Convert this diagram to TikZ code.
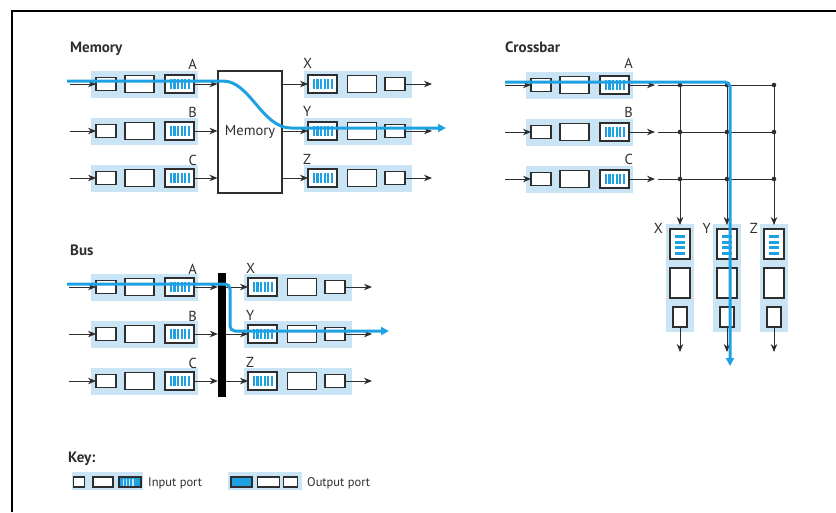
\documentclass[tikz,border=0pt]{standalone}
\usepackage{fontspec}
\setmainfont{PT Sans}
\usetikzlibrary{arrows.meta,calc}
\definecolor{bgblue}{HTML}{C9E4F5}
\definecolor{flowblue}{HTML}{1DA1E2}
\definecolor{ink}{HTML}{2E2E2E}
\tikzset{
  portbg/.style={fill=bgblue,draw=none,inner sep=0pt,outer sep=0pt},
  bx/.style={draw=ink,line width=1.1pt,fill=white,inner sep=0pt,outer sep=0pt},
  sbox/.style={bx,minimum width=20pt,minimum height=13pt},
  mbox/.style={bx,minimum width=29pt,minimum height=17pt},
  qbox/.style={bx,minimum width=29pt,minimum height=18pt},
  vqbox/.style={bx,minimum width=20pt,minimum height=30pt},
  vmbox/.style={bx,minimum width=20pt,minimum height=30pt},
  vsbox/.style={bx,minimum width=14pt,minimum height=20pt},
  arr/.style={-{Stealth[length=8pt,width=6.5pt]},line width=0.9pt,draw=ink},
  gridline/.style={line width=1pt,draw=ink},
  flow/.style={draw=flowblue,line width=3pt,rounded corners=5pt,-{Triangle[length=8pt,width=8pt]}},
  lbl/.style={text=ink,font=\fontsize{14.5}{16}\selectfont,inner sep=0pt},
  ttl/.style={text=ink,font=\fontsize{15}{17}\selectfont\bfseries,inner sep=0pt,anchor=base west},
  keytxt/.style={text=ink,font=\fontsize{12.5}{14}\selectfont,inner sep=0pt,anchor=base west},
}
\newcommand\inport[3]{%
  \node[portbg,minimum width=107pt,minimum height=27pt,anchor=west] (#1bg) at (#2,#3) {};
  \node[sbox] (#1s) at ({#2+15},#3) {};
  \node[mbox] (#1m) at ({#2+48.5},#3) {};
  \node[qbox] (#1q) at ({#2+88.5},#3) {};
  \foreach \i in {0,...,5} \fill[flowblue] ({#2+88.5-9.8+\i*3.6},{#3-5}) rectangle ++(2.3,10);
}
\newcommand\outport[3]{%
  \node[portbg,minimum width=108pt,minimum height=27pt,anchor=west] (#1bg) at (#2,#3) {};
  \node[qbox] (#1q) at ({#2+18.5},#3) {};
  \node[mbox] (#1m) at ({#2+58},#3) {};
  \node[sbox] (#1s) at ({#2+91},#3) {};
  \foreach \i in {0,...,5} \fill[flowblue] ({#2+18.5-9.8+\i*3.6},{#3-5}) rectangle ++(2.3,10);
}
\newcommand\colport[2]{%
  \node[portbg,minimum width=28pt,minimum height=108pt] (#1bg) at (#2,278) {};
  \node[vqbox] (#1q) at (#2,244) {};
  \node[vmbox] (#1m) at (#2,283) {};
  \node[vsbox] (#1s) at (#2,317) {};
  \foreach \i in {0,...,3} \fill[flowblue] ({#2-5},{235+\i*5.6}) rectangle ++(10,3);
}
\begin{document}
\begin{tikzpicture}[x=1pt,y=-1pt]
\useasboundingbox (0,0) rectangle (836,512);
% frame
\draw[line width=1.6pt,black] (12,512) -- (12,11) -- (836,11);

% ================= Memory =================
\node[ttl] (tmem) at (70,52) {Memory};
\node[draw=ink,line width=1.1pt,fill=white,minimum width=64pt,minimum height=122pt,inner sep=0pt,
      font=\fontsize{14.5}{16}\selectfont,text=ink] (mem) at (250,132) {Memory};
\inport{mA}{91}{84}
\inport{mB}{91}{131}
\inport{mC}{91}{178}
\outport{mX}{304}{84}
\outport{mY}{304}{131}
\outport{mZ}{304}{178}
\foreach \r in {A,B,C}{
  \coordinate (m\r in) at ($(m\r s.west)+(-26,0)$);
  \draw[arr] (m\r in) -- (m\r s.west);
  \draw[arr] (m\r q.east) -- (m\r q -| mem.west);
}
\foreach \r in {X,Y,Z}{
  \coordinate (m\r out) at ($(m\r s.east)+(27,0)$);
  \draw[arr] (m\r q -| mem.east) -- (m\r q.west);
  \draw[arr] (m\r s.east) -- (m\r out);
}
\node[lbl,anchor=base east] (lmA) at (197,69) {A};
\node[lbl,anchor=base east] (lmB) at (197,117) {B};
\node[lbl,anchor=base east] (lmC) at (197,165) {C};
\node[lbl,anchor=base west] (lmX) at (303,68) {X};
\node[lbl,anchor=base west] (lmY) at (303,116) {Y};
\node[lbl,anchor=base west] (lmZ) at (303,164) {Z};

% ================= Crossbar =================
\node[ttl] (tcb) at (505,52) {Crossbar};
\inport{cA}{526}{85}
\inport{cB}{526}{132}
\inport{cC}{526}{179}
\node[lbl,anchor=base east] (lcA) at (633,68) {A};
\node[lbl,anchor=base east] (lcB) at (633,117) {B};
\node[lbl,anchor=base east] (lcC) at (633,164) {C};
\colport{cX}{680}
\colport{cY}{727}
\colport{cZ}{774}
\node[lbl,anchor=base east] (lcX) at (663,233) {X};
\node[lbl,anchor=base east] (lcY) at (711,233) {Y};
\node[lbl,anchor=base east] (lcZ) at (758,233) {Z};
\foreach \r/\yy in {A/85,B/132,C/179}{
  \coordinate (c\r in) at (505,\yy);
  \coordinate (c\r out) at (655,\yy);
  \coordinate (c\r g) at (658,\yy);
  \coordinate (c\r e) at (774,\yy);
  \draw[arr] (c\r in) -- (c\r s.west);
  \draw[arr] (c\r q.east) -- (c\r out);
  \draw[gridline] (c\r g) -- (c\r e);
}
\foreach \c/\xx in {X/680,Y/727,Z/774}{
  \coordinate (c\c top) at (\xx,85);
  \coordinate (c\c bot) at (\xx,352);
  \draw[arr,shorten >=4pt] (c\c top) -- (c\c q.north);
  \draw[arr] (c\c s.south) -- (c\c bot);
  \foreach \yy in {85,132,179} \fill[ink] (\xx,\yy) circle (2.3);
}

% ================= Bus =================
\node[ttl] (tbus) at (70,255) {Bus};
\inport{bA}{91}{287}
\inport{bB}{91}{334}
\inport{bC}{91}{381}
\outport{bX}{244}{287}
\outport{bY}{244}{334}
\outport{bZ}{244}{381}
\node[fill=black,minimum width=8pt,minimum height=124pt,inner sep=0pt] (bus) at (222,335) {};
\foreach \r in {A,B,C}{
  \coordinate (b\r in) at ($(b\r s.west)+(-27,0)$);
  \draw[arr] (b\r in) -- (b\r s.west);
  \draw[arr] (b\r q.east) -- (b\r q -| bus.west);
}
\foreach \r in {X,Y,Z}{
  \coordinate (b\r out) at ($(b\r s.east)+(27,0)$);
  \draw[arr] (b\r q -| bus.east) -- (b\r q.west);
  \draw[arr] (b\r s.east) -- (b\r out);
}
\node[lbl,anchor=base east] (lbA) at (197,274) {A};
\node[lbl,anchor=base east] (lbB) at (197,321) {B};
\node[lbl,anchor=base east] (lbC) at (197,368) {C};
\node[lbl,anchor=base west] (lbX) at (246,273) {X};
\node[lbl,anchor=base west] (lbY) at (246,320) {Y};
\node[lbl,anchor=base west] (lbZ) at (246,367) {Z};

% ================= flows =================
\coordinate (fm0) at (67,81);
\coordinate (fm1) at (218,81);
\coordinate (fm2) at (296,128);
\coordinate (fm3) at (446,128);
\draw[flow] (fm0) -- (fm1) .. controls (250,81) and (262,128) .. (fm2) -- (fm3);
\coordinate (fc0) at (505,82);
\coordinate (fc1) at (730,82);
\coordinate (fc2) at (730,366);
\draw[flow] (fc0) -- (fc1) -- (fc2);
\coordinate (fb0) at (67,284);
\coordinate (fb1) at (230,284);
\coordinate (fb2) at (230,331);
\coordinate (fb3) at (389,331);
\draw[flow] (fb0) -- (fb1) -- (fb2) -- (fb3);

% ================= Key =================
\node[ttl] (tkey) at (68,462) {Key:};
\node[portbg,minimum width=71pt,minimum height=18pt,anchor=west] (kibg) at (72,481) {};
\node[bx,minimum width=11pt,minimum height=10pt] (kis) at (79,482) {};
\node[bx,minimum width=20pt,minimum height=10pt] (kim) at (103,482) {};
\node[bx,fill=flowblue,minimum width=22pt,minimum height=10pt] (kiq) at (130,482) {};
\foreach \i in {0,...,3} \fill[bgblue] ({122.5+\i*3.2},478.5) rectangle ++(1.4,7);
\node[keytxt] (kit) at (148,486) {Input port};
\node[portbg,minimum width=74pt,minimum height=18pt,anchor=west] (kobg) at (228,481) {};
\node[bx,fill=flowblue,minimum width=21pt,minimum height=10pt] (koq) at (241.5,482) {};
\node[bx,minimum width=22pt,minimum height=10pt] (kom) at (268.5,482) {};
\node[bx,minimum width=14pt,minimum height=10pt] (kos) at (290.5,482) {};
\node[keytxt] (kot) at (307,486) {Output port};
\end{tikzpicture}
\end{document}
